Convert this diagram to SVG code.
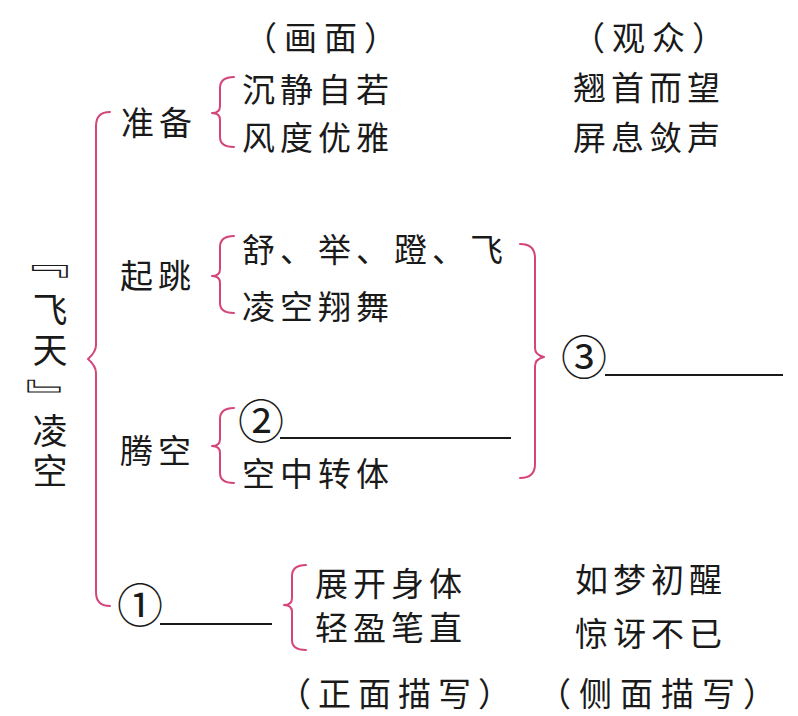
<svg xmlns="http://www.w3.org/2000/svg" width="798" height="716" viewBox="0 0 798 716">
<style>
.t{font-family:"Noto Sans CJK SC","Noto Sans CJK JP",sans-serif;font-size:33px;fill:#1a1a1a;letter-spacing:5px}
.v{font-family:"Noto Sans CJK SC","Noto Sans CJK JP",sans-serif;font-size:35px;fill:#1a1a1a;writing-mode:vertical-rl;letter-spacing:5px}
.k{font-family:"Noto Sans CJK SC","Noto Sans CJK JP",sans-serif;font-size:35px;fill:#1a1a1a;text-anchor:middle;dominant-baseline:central}
.c{font-family:"Noto Sans CJK SC","Noto Sans CJK JP",sans-serif;font-size:46px;fill:#1a1a1a}
.b{fill:none;stroke:#d4457c;stroke-width:2;stroke-linecap:round;stroke-linejoin:round}
.u{stroke:#1a1a1a;stroke-width:2}
</style>
<rect width="798" height="716" fill="#ffffff"/>
<g id="connectors">
<path class="b" d="M110,112 Q96,112 96,126 L96,345 Q96,352 88,359 Q96,366 96,373 L96,592 Q96,606 110,606"/>
<path class="b" d="M234,77 Q220,77 220,88 L220,106 Q220,113 212,113 Q220,113 220,120 L220,137 Q220,147 234,147"/>
<path class="b" d="M234,236 Q220,236 220,247 L220,269 Q220,276 212,276 Q220,276 220,283 L220,303 Q220,313 234,313"/>
<path class="b" d="M234,408 Q220,408 220,419 L220,439 Q220,446 212,446 Q220,446 220,453 L220,473 Q220,483 234,483"/>
<path class="b" d="M306,565 Q292,565 292,576 L292,598 Q292,605 284,605 Q292,605 292,612 L292,640 Q292,650 306,650"/>
<path class="b" d="M520,244 Q535,244 535,258 L535,348 Q535,355 544,357 Q535,359 535,366 L535,464 Q535,478 520,478"/>
<line class="u" x1="280" y1="438" x2="511" y2="438"/>
<line class="u" x1="605" y1="375" x2="783" y2="375"/>
<line class="u" x1="160" y1="624" x2="272" y2="624"/>
</g>
<g id="headers">
<text class="t" x="244" y="49.5" style="letter-spacing:7px">（画面）</text>
<text class="t" x="572" y="49.5" style="letter-spacing:7px">（观众）</text>
<text class="t" x="278" y="705.5" style="letter-spacing:7px">（正面描写）</text>
<text class="t" x="538" y="705.5" style="letter-spacing:8px">（侧面描写）</text>
</g>
<g id="root">
<text class="k" transform="translate(45.4,261.5) scale(1.53,1) rotate(90)">『</text>
<text class="v" x="50" y="292.5">飞天</text>
<text class="k" transform="translate(53.6,396) scale(1.4,1) rotate(90)">』</text>
<text class="v" x="50" y="413">凌空</text>
</g>
<g id="n-zhunbei">
<text class="t" x="121" y="134.5">准备</text>
<text class="t" x="242" y="101.5">沉静自若</text>
<text class="t" x="242" y="149.5">风度优雅</text>
<text class="t" x="573" y="99.5">翘首而望</text>
<text class="t" x="573" y="149.5">屏息敛声</text>
</g>
<g id="n-qitiao">
<text class="t" x="120" y="287.5">起跳</text>
<text class="t" x="242" y="261.5">舒、举、蹬、飞</text>
<text class="t" x="242" y="318.5">凌空翔舞</text>
</g>
<g id="n-tengkong">
<text class="t" x="120" y="462.5">腾空</text>
<text class="c" x="238" y="438">②</text>
<text class="t" x="242" y="485.5">空中转体</text>
</g>
<g id="n-3">
<text class="c" x="561" y="374">③</text>
</g>
<g id="n-1">
<text class="c" x="117" y="622">①</text>
<text class="t" x="315" y="595.5">展开身体</text>
<text class="t" x="315" y="639.5">轻盈笔直</text>
<text class="t" x="575" y="591.5">如梦初醒</text>
<text class="t" x="575" y="645.5">惊讶不已</text>
</g>
</svg>
